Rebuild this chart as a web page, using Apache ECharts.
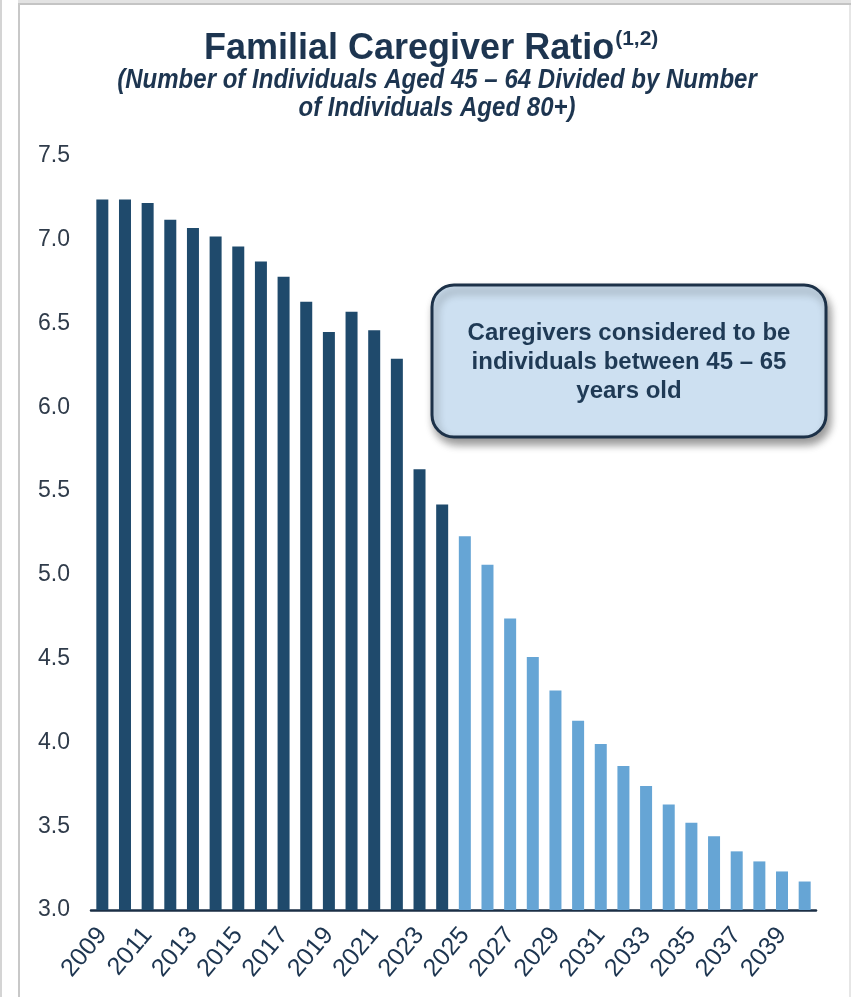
<!DOCTYPE html>
<html>
<head>
<meta charset="utf-8">
<title>Familial Caregiver Ratio</title>
<script src="https://cdn.jsdelivr.net/npm/echarts@6/dist/echarts.min.js"></script>
<style>
  html, body { margin: 0; padding: 0; background: #ffffff; }
  #chart { width: 851px; height: 997px; }
</style>
</head>
<body>
<div id="chart"></div>
<script>
// Years on the category axis
const years = ['2009','2010','2011','2012','2013','2014','2015','2016','2017','2018','2019','2020',
  '2021','2022','2023','2024','2025','2026','2027','2028','2029','2030','2031','2032',
  '2033','2034','2035','2036','2037','2038','2039','2040'];

// Ratio of people aged 45-64 to people aged 80+, actual years (2009-2024)
const historicalRatio = [7.24, 7.24, 7.22, 7.12, 7.07, 7.02, 6.96, 6.87, 6.78, 6.63, 6.45, 6.57,
  6.46, 6.29, 5.63, 5.42];

// Projected years (2025-2040)
const projectedRatio = [5.23, 5.06, 4.74, 4.51, 4.31, 4.13, 3.99, 3.86, 3.74, 3.63, 3.52, 3.44,
  3.35, 3.29, 3.23, 3.17];

// Value-axis ticks
const yTicks = { min: 3.0, max: 7.5, step: 0.5 };

const titleText = 'Familial Caregiver Ratio';
const titleNote = '(1,2)';
const subtitleLines = ['(Number of Individuals Aged 45 \u2013 64 Divided by Number', 'of Individuals Aged 80+)'];
const calloutLines = ['Caregivers considered to be', 'individuals between 45 \u2013 65', 'years old'];

const NAVY = '#1d3550';
const DARK_BAR = '#1f4a6c';
const LIGHT_BAR = '#66a5d5';
const SANS = 'Liberation Sans, Arial, sans-serif';

const histSeries = years.map((y, i) => i < historicalRatio.length ? historicalRatio[i] : null);
const projSeries = years.map((y, i) => i >= historicalRatio.length ? projectedRatio[i - historicalRatio.length] : null);

const chart = echarts.init(document.getElementById('chart'), null, { renderer: 'canvas' });

chart.setOption({
  backgroundColor: '#ffffff',
  animation: false,
  grid: { left: 91, right: 35, top: 156, bottom: 87, containLabel: false },
  xAxis: {
    type: 'category',
    data: years,
    axisTick: { show: false },
    axisLine: { show: true, lineStyle: { color: '#1b2f45', width: 2.5 } },
    axisLabel: {
      interval: 1,
      rotate: 50,
      margin: 21,
      fontFamily: SANS,
      fontSize: 25,
      color: NAVY
    }
  },
  yAxis: {
    type: 'value',
    min: yTicks.min,
    max: yTicks.max,
    interval: yTicks.step,
    axisLine: { show: false },
    axisTick: { show: false },
    splitLine: { show: false },
    axisLabel: {
      margin: 21,
      fontFamily: SANS,
      fontSize: 23,
      color: '#2f3b4a',
      formatter: v => v.toFixed(1)
    }
  },
  series: [
    {
      name: 'Actual',
      type: 'bar',
      data: histSeries,
      barWidth: 12,
      barGap: '-100%',
      itemStyle: { color: DARK_BAR }
    },
    {
      name: 'Projected',
      type: 'bar',
      data: projSeries,
      barWidth: 12,
      barGap: '-100%',
      itemStyle: { color: LIGHT_BAR }
    }
  ],
  graphic: [
    // page frame
    { type: 'rect', z: 0, shape: { x: 18, y: 0, width: 833, height: 3 }, style: { fill: '#e3e3e3' }, silent: true },
    { type: 'rect', z: 0, shape: { x: 18, y: 3, width: 833, height: 2 }, style: { fill: '#c4c4c4' }, silent: true },
    { type: 'rect', z: 0, shape: { x: 18, y: 3, width: 2, height: 994 }, style: { fill: '#c8c8c8' }, silent: true },
    { type: 'rect', z: 0, shape: { x: 0, y: 0, width: 2, height: 997 }, style: { fill: '#d4d4d4' }, silent: true },
    { type: 'rect', z: 0, shape: { x: 849, y: 5, width: 2, height: 992 }, style: { fill: '#e6e6e6' }, silent: true },
    // title
    {
      type: 'text',
      x: 204,
      y: 29,
      z: 10,
      style: {
        text: '{t|' + titleText + '}{s|' + titleNote + '}',
        textAlign: 'left',
        textVerticalAlign: 'top',
        rich: {
          t: { fontFamily: SANS, fontWeight: 'bold', fontSize: 36, fill: NAVY, lineHeight: 40 },
          s: { fontFamily: SANS, fontWeight: 'bold', fontSize: 21, fill: NAVY, verticalAlign: 'top', lineHeight: 40, padding: [0, 0, 14, 1] }
        }
      }
    },
    {
      type: 'text',
      x: 437,
      y: 67,
      scaleX: 0.89,
      z: 10,
      style: {
        text: subtitleLines.join('\n'),
        textAlign: 'center',
        textVerticalAlign: 'top',
        fontFamily: SANS,
        fontStyle: 'italic',
        fontWeight: 'bold',
        fontSize: 27,
        lineHeight: 28,
        fill: NAVY
      }
    },
    // callout
    {
      type: 'rect',
      z: 10,
      shape: { x: 432, y: 285, width: 394, height: 152, r: 22 },
      style: {
        fill: '#cde0f1',
        stroke: '#1c3148',
        lineWidth: 3,
        shadowBlur: 9,
        shadowOffsetX: 3,
        shadowOffsetY: 6,
        shadowColor: 'rgba(0,0,0,0.4)'
      }
    },
    {
      type: 'text',
      z: 11,
      x: 629,
      y: 362,
      style: {
        text: calloutLines.join('\n'),
        textAlign: 'center',
        textVerticalAlign: 'middle',
        fontFamily: SANS,
        fontWeight: 'bold',
        fontSize: 24,
        lineHeight: 29,
        fill: '#1f3a55'
      }
    }
  ]
});
</script>
</body>
</html>
